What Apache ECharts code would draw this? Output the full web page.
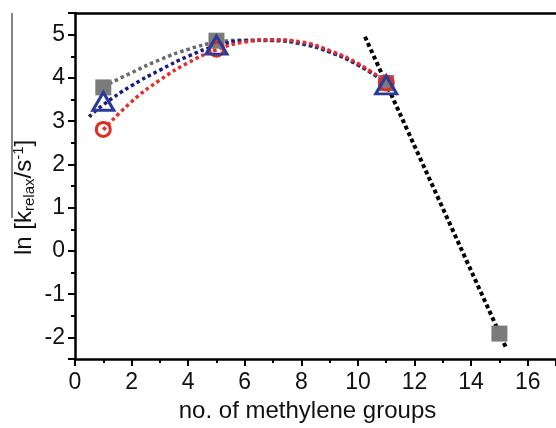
<!DOCTYPE html>
<html>
<head>
    <meta charset="utf-8">
    <title>ln k relax vs methylene groups</title>
    <script src="https://cdn.jsdelivr.net/npm/echarts@6/dist/echarts.min.js"></script>
</head>
<body style="margin:0;background:#fff">
<div id="main" style="width:556px;height:428px"></div>
<script type="text/javascript">
    // markers
    var sqX = [1, 5, 11, 15];
    var sqY = [3.78, 4.86, 3.88, -1.91];
    var triX = [1, 5, 11];
    var triY = [3.46, 4.76, 3.84];
    var cirX = [1, 5, 11];
    var cirY = [2.81, 4.66, 3.88];

    // dotted fit curves, read point by point
    var grayX = [1, 2, 3, 4, 5, 6, 7, 8, 9, 10, 11];
    var grayY = [3.8, 4.12, 4.42, 4.66, 4.82, 4.87, 4.86, 4.78, 4.6, 4.3, 3.9];
    var blueX = [0.5, 1, 2, 3, 4, 5, 6, 7, 8, 9, 10, 11];
    var blueY = [3.1, 3.38, 3.82, 4.18, 4.5, 4.74, 4.86, 4.87, 4.8, 4.6, 4.3, 3.88];
    var redX = [1, 2, 3, 4, 5, 6, 7, 8, 9, 10, 11];
    var redY = [2.8, 3.45, 3.95, 4.35, 4.65, 4.83, 4.88, 4.83, 4.63, 4.33, 3.9];
    var blackX = [10.25, 15.25];
    var blackY = [4.95, -2.26];

    var xTitle = 'no. of methylene groups';

    function pairs(xs, ys) {
        return xs.map(function (x, i) { return [x, ys[i]]; });
    }

    function dotted(name, xs, ys, color, w) {
        return {
            name: name, type: 'line', data: pairs(xs, ys),
            smooth: true, symbol: 'none', silent: true,
            lineStyle: {color: color, width: w, type: [w, 3], cap: 'butt'}
        };
    }

    var font = 'Liberation Sans, Arial, sans-serif';
    var myChart = echarts.init(document.getElementById('main'));

    var option = {
        animation: false,
        grid: {left: 75, right: -2, top: 13, bottom: 61},
        xAxis: [{
            type: 'value', min: 0, max: 17, splitNumber: 8, position: 'bottom',
            splitLine: {show: false},
            axisLine: {onZero: false, lineStyle: {color: '#000', width: 2.5}},
            axisTick: {length: 7, lineStyle: {color: '#000', width: 2}},
            minorTick: {show: true, splitNumber: 2, length: 4, lineStyle: {color: '#000', width: 2}},
            axisLabel: {margin: 12, fontSize: 23, color: '#111', fontFamily: font, showMaxLabel: false},
            name: xTitle, nameLocation: 'middle', nameGap: 34,
            nameTextStyle: {fontSize: 24, color: '#111', fontFamily: font, padding: [0, 16, 0, 0]}
        }, {
            type: 'value', min: 0, max: 17, position: 'top',
            splitLine: {show: false},
            axisLine: {onZero: false, lineStyle: {color: '#000', width: 2.5}},
            axisTick: {show: false}, axisLabel: {show: false}
        }],
        yAxis: {
            type: 'value', min: -2.5, max: 5.5, splitNumber: 8,
            splitLine: {show: false},
            axisLine: {onZero: false, lineStyle: {color: '#000', width: 2.5}},
            axisTick: {length: 7, lineStyle: {color: '#000', width: 2}},
            minorTick: {show: true, splitNumber: 2, length: 4, lineStyle: {color: '#000', width: 2}},
            axisLabel: {margin: 10, fontSize: 23, color: '#111', fontFamily: font,
                showMinLabel: false, showMaxLabel: false}
        },
        graphic: [{
            type: 'line', shape: {x1: 12, y1: 13, x2: 12, y2: 218},
            style: {stroke: '#444', lineWidth: 1.3}
        }, {
            type: 'text', x: 24, y: 255, rotation: Math.PI / 2,
            style: {
                text: 'ln [k{sub|relax}/s{sup|-1}]',
                font: '24px ' + font, fill: '#111',
                align: 'left', verticalAlign: 'middle',
                rich: {
                    sub: {fontSize: 15, fontFamily: font, verticalAlign: 'bottom', padding: [10, 0, 0, 0]},
                    sup: {fontSize: 15, fontFamily: font, verticalAlign: 'top', padding: [0, 0, 11, 0]}
                }
            }
        }],
        series: [
            dotted('gray fit', grayX, grayY, '#6a6a6a', 3.5),
            dotted('blue fit', blueX, blueY, '#1b1b80', 3.5),
            dotted('red fit', redX, redY, '#e4302b', 3.5),
            dotted('black fit', blackX, blackY, '#000', 4),
            {
                name: 'square', type: 'scatter', data: pairs(sqX, sqY),
                symbol: 'rect', symbolSize: 16, z: 5,
                itemStyle: {color: '#7b7b7b', opacity: 1}
            },
            {
                name: 'circle', type: 'scatter', data: pairs(cirX, cirY),
                symbol: 'circle', symbolSize: 14, z: 6,
                itemStyle: {color: 'rgba(0,0,0,0)', borderColor: '#e32b26', borderWidth: 3, opacity: 1}
            },
            {
                name: 'triangle', type: 'scatter', data: pairs(triX, triY),
                symbol: 'triangle', symbolSize: [21, 18], z: 7,
                itemStyle: {color: 'rgba(0,0,0,0)', borderColor: '#2a3c97', borderWidth: 3, opacity: 1}
            }
        ]
    };

    myChart.setOption(option);
</script>
</body>
</html>
